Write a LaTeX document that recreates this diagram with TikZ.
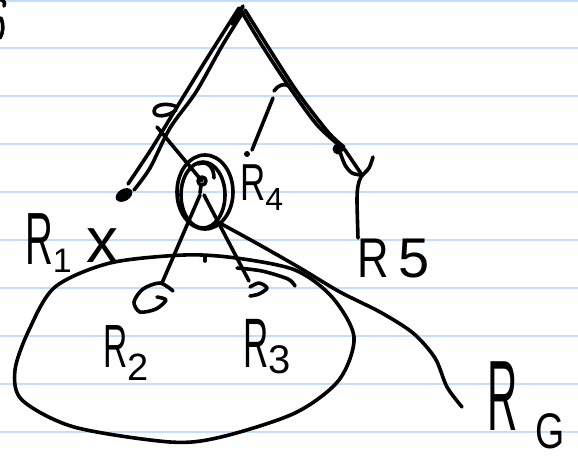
\documentclass[tikz,border=0pt]{standalone}
\usepackage{fontspec}
\setmainfont{Liberation Sans}
\usepackage{graphicx}
\definecolor{ruleblue}{RGB}{196,222,250}
\definecolor{ink}{RGB}{0,0,0}
\newcommand{\narrowR}[2]{{\fontsize{#2}{#2}\selectfont\scalebox{#1}[1]{R}}}
\newcommand{\subs}[3]{\raisebox{-#1}{\fontsize{#2}{#2}\selectfont #3}}
\begin{document}
\begin{tikzpicture}[x=1pt,y=-1pt,
  pen/.style={line width=3.6pt,line cap=round,line join=round,draw=ink},
  ruled/.style={line width=2pt,draw=ruleblue},
  lab/.style={inner sep=0pt,anchor=base west,text=ink}]
\useasboundingbox (0,0) rectangle (578,458);
\fill[white] (0,0) rectangle (578,458);
\foreach \yy in {1,48,96,144,192,240,288,336,384,432} \draw[ruled] (0,\yy) -- (578,\yy);

% stray mark at the top-left edge
\draw[pen] (0,-1) .. controls (5,2) .. (4,6);
\draw[pen] (1,18) .. controls (4,26) and (3,33) .. (0,38);

% named points
\coordinate (apex) at (239,8);
\coordinate (lend) at (128,184);
\coordinate (rend) at (345,150);
\coordinate (hub) at (202,181);
\coordinate (lchild) at (162,283);
\coordinate (rchild) at (249,281);
\coordinate (r4dot) at (247,154);

% apex scribble
\draw[pen] (232,24) -- (243,6) -- (236,22);

% left branch (double stroke)
\draw[pen] plot[smooth] coordinates {(apex) (206,60) (177,107) (152,148) (lend)};
\draw[pen] plot[smooth] coordinates {(243,12) (222,46) (196,92) (170,128) (150,168) (134,190)};
\fill[ink] (124,195) ellipse[x radius=9,y radius=6,rotate=30];

% small loop on left branch
\draw[pen] (177,107) .. controls (170,103) and (155,103) .. (154,111) .. controls (154,118) and (168,117) .. (176,110);

% cross line to the ringed node
\draw[pen] (157,127) -- (hub);

% ringed node
\draw[pen] (hub) circle[radius=4];
\draw[pen] (201,185) -- (200,193);
\draw[pen] (205,192) ellipse[x radius=28,y radius=37];
\draw[pen] (203,195) ellipse[x radius=22,y radius=33];
\draw[pen] (198,164) .. controls (208,160) and (214,168) .. (214,178);

% children
\draw[pen] (200,195) -- (lchild);
\draw[pen] (204,195) -- (rchild);
\draw[pen] plot[smooth] coordinates {(173,291) (160,283) (143,289) (134,302) (140,312) (156,309) (166,300) (157,297)};
\draw[pen] plot[smooth] coordinates {(250,287) (259,283) (267,288) (259,294) (250,296)};

% right branch (double stroke)
\draw[pen] plot[smooth] coordinates {(240,9) (263,47) (290,88) (318,126) (rend)};
\draw[pen] plot[smooth] coordinates {(245,10) (270,50) (298,93) (328,132) (344,147)};
\fill[ink] (338,149) circle[radius=5.5];
\draw[pen] (rend) -- (362,175);
\draw[pen] plot[smooth] coordinates {(340,152) (345,165) (352,173) (361,175)};
\draw[pen] plot[smooth] coordinates {(373,157) (369,168) (361,177) (358,186) (357,200) (358,238)};

% R4 marker
\draw[pen] (274,91) .. controls (278,85) and (284,83) .. (289,86);
\draw[pen] (273,98) -- (252,150);
\fill[ink] (r4dot) circle[radius=3];

% big group ellipse
\draw[pen] plot[smooth cycle] coordinates {(184,255) (236,258) (295,270) (332,297) (354,337) (339,380) (295,413) (221,437) (170,442) (74,427) (22,400) (15,370) (29,330) (55,287) (110,263)};
\draw[pen] (205,257) -- (205,261);
\draw[pen] plot[smooth] coordinates {(237,268) (262,271) (288,279) (295,286)};

% R_G leader
\draw[pen] plot[smooth] coordinates {(216,221) (258,244) (300,268) (340,292) (380,312) (413,333) (435,358) (447,387) (462,407)};

% labels
\node[lab] (r1) at (25,264) {\narrowR{0.52}{74}\subs{8pt}{34}{1}};
\node[lab] (xmark) at (86,262) {\fontsize{64}{64}\selectfont x};
\node[lab] (r4) at (240,200) {\narrowR{0.67}{52}\subs{10pt}{32}{4}};
\node[lab] (r5) at (357,277) {\narrowR{0.78}{56}\hspace{10pt}{\fontsize{56}{56}\selectfont 5}};
\node[lab] (r2) at (103,367) {\narrowR{0.55}{61}\subs{13pt}{38}{2}};
\node[lab] (r3) at (243,367) {\narrowR{0.5}{70}\subs{6pt}{40}{3}};
\node[lab] (rg) at (487,430) {\narrowR{0.42}{100}\hspace{18pt}\subs{18pt}{50}{\scalebox{0.75}[1]{G}}};
\end{tikzpicture}
\end{document}
